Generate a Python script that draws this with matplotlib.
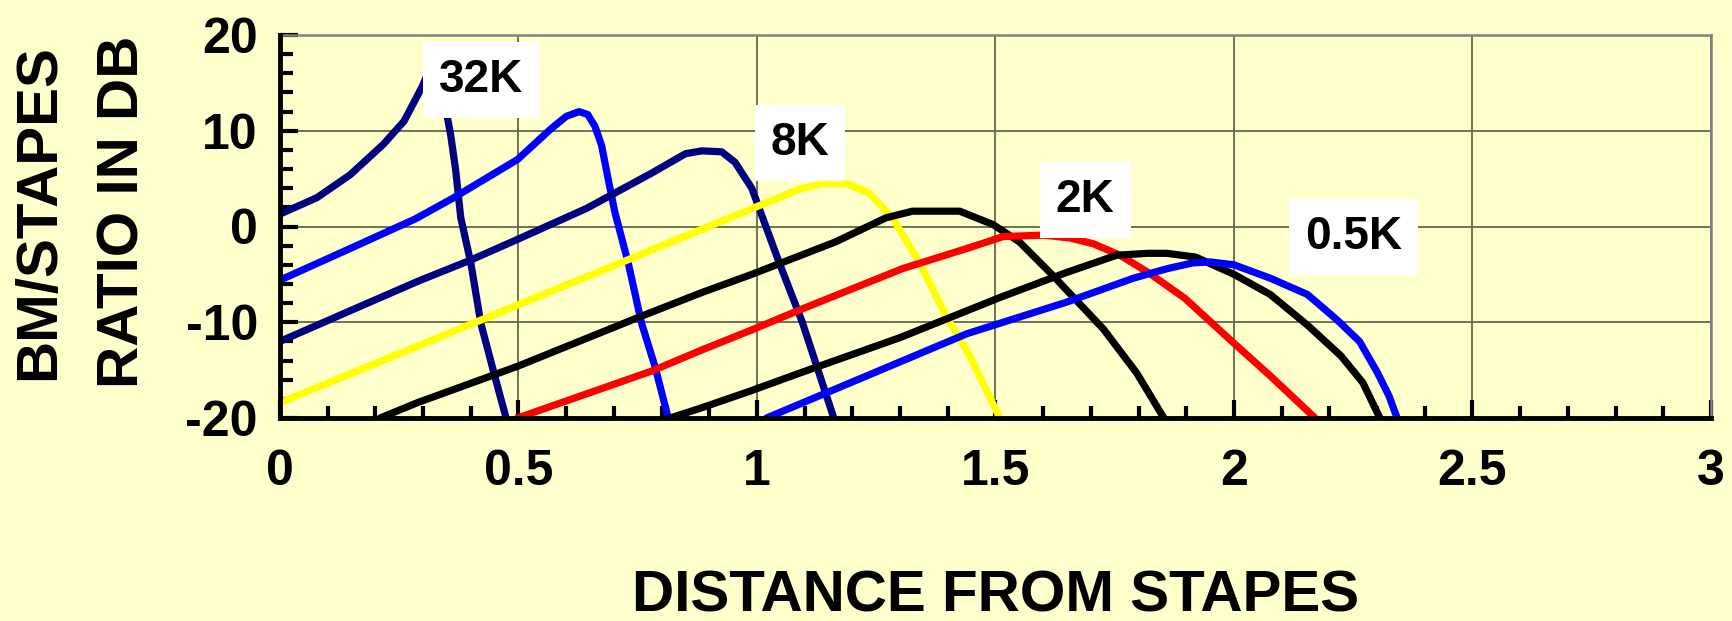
import numpy as np
import matplotlib
matplotlib.use("Agg")
from matplotlib import pyplot as plt
from matplotlib.ticker import MultipleLocator

plt.rcParams['font.family'] = ['Liberation Sans', 'DejaVu Sans']
plt.rcParams['font.weight'] = 'bold'
plt.rcParams['axes.unicode_minus'] = False

# distance from stapes / BM-to-stapes ratio (dB)
x_32k = [0, 0.077, 0.147, 0.217, 0.26, 0.298, 0.32, 0.335, 0.345, 0.351, 0.358, 0.368, 0.379, 0.40, 0.421, 0.449, 0.474]
y_32k = [1.3, 3.0, 5.4, 8.6, 11.0, 14.6, 17.2, 17.8, 14.5, 11.4, 9.5, 6.0, 0.9, -3.8, -10.1, -15.4, -20]

x_16k = [0, 0.147, 0.284, 0.364, 0.498, 0.568, 0.60, 0.627, 0.645, 0.66, 0.674, 0.691, 0.702, 0.73, 0.758, 0.786, 0.814]
y_16k = [-5.6, -2.3, 0.8, 3.0, 7.0, 10.2, 11.5, 12.0, 11.7, 10.5, 8.5, 4.2, 1.5, -3.8, -10.1, -14.6, -20]

x_11k = [0, 0.147, 0.29, 0.40, 0.50, 0.643, 0.78, 0.85, 0.884, 0.926, 0.954, 0.989, 1.046, 1.095, 1.13, 1.161]
y_11k = [-12.0, -8.8, -5.7, -3.5, -1.3, 1.9, 5.6, 7.6, 7.9, 7.8, 6.7, 4.0, -3.7, -10.0, -15.3, -20]

x_8k = [0, 0.147, 0.288, 0.498, 0.709, 0.884, 0.996, 1.095, 1.14, 1.186, 1.235, 1.284, 1.34, 1.396, 1.446, 1.509]
y_8k = [-18.4, -15.4, -12.5, -8.2, -3.9, -0.3, 2.0, 4.0, 4.5, 4.5, 3.5, 0.9, -3.7, -9.3, -13.5, -20]

x_4k = [0.21, 0.288, 0.498, 0.751, 0.884, 0.989, 1.165, 1.27, 1.326, 1.425, 1.495, 1.55, 1.62, 1.726, 1.796, 1.853]
y_4k = [-20, -18.4, -14.6, -9.5, -6.9, -5.0, -1.6, 0.9, 1.6, 1.6, 0.2, -1.6, -5.1, -10.7, -15.3, -20]

x_2k = [0.498, 0.779, 0.884, 0.989, 1.095, 1.305, 1.446, 1.516, 1.60, 1.656, 1.705, 1.761, 1.82, 1.897, 2.0, 2.076, 2.17]
y_2k = [-20, -15.1, -12.9, -10.8, -8.6, -4.4, -2.2, -1.05, -0.9, -1.2, -1.8, -3.0, -4.8, -7.5, -12.2, -15.6, -20]

x_1k = [0.818, 0.88, 0.985, 1.09, 1.30, 1.51, 1.649, 1.754, 1.82, 1.859, 1.92, 2.0, 2.076, 2.154, 2.224, 2.27, 2.30, 2.306]
y_1k = [-20, -19.0, -17.2, -15.3, -11.6, -7.4, -4.8, -3.0, -2.8, -2.8, -3.2, -5.0, -7.1, -10.3, -13.5, -16.3, -19.4, -20]

x_05k = [1.02, 1.23, 1.44, 1.649, 1.789, 1.86, 1.914, 1.95, 2.0, 2.076, 2.154, 2.216, 2.263, 2.30, 2.325, 2.342]
y_05k = [-20, -15.6, -11.2, -7.9, -5.4, -4.4, -3.8, -3.7, -4.0, -5.4, -7.1, -9.75, -12.0, -15.2, -17.7, -20]

curves = [
    (x_32k, y_32k, '#000080'),
    (x_16k, y_16k, '#0000ff'),
    (x_11k, y_11k, '#000080'),
    (x_8k, y_8k, '#ffff00'),
    (x_4k, y_4k, '#000000'),
    (x_2k, y_2k, '#ff0000'),
    (x_1k, y_1k, '#000000'),
    (x_05k, y_05k, '#0000ff'),
]

labels = ['32K', '8K', '2K', '0.5K']
label_x = [0.421, 1.09, 1.688, 2.25]
label_y = [15.3, 8.7, 2.8, -1.1]

bg = '#ffffcc'
fig = plt.figure(figsize=(17.33, 6.21), dpi=100, facecolor=bg)
ax = fig.add_axes([280 / 1733, 1 - 418 / 621, 1431 / 1733, 383 / 621])
ax.set_facecolor(bg)

for xs, ys, c in curves:
    ax.plot(xs, ys, color=c, lw=5.2, solid_capstyle='round', solid_joinstyle='round', zorder=3)

for t, lx, ly in zip(labels, label_x, label_y):
    ax.text(lx, ly, t, fontsize=33, fontweight='bold', ha='center', va='center', zorder=5,
            bbox=dict(boxstyle='square,pad=0.35', fc='white', ec='none'))

ax.set_xlim(0, 3)
ax.set_ylim(-20, 20)
ax.xaxis.set_minor_locator(MultipleLocator(0.1))
ax.yaxis.set_major_locator(MultipleLocator(10))
ax.yaxis.set_minor_locator(MultipleLocator(2))
ax.set_xticks([0, 0.5, 1, 1.5, 2, 2.5, 3])
ax.set_xticklabels(['0', '0.5', '1', '1.5', '2', '2.5', '3'])

ax.grid(True, which='major', color='#66664d', lw=1.3, zorder=1)
ax.tick_params(which='both', direction='in', color='black', width=3, top=False, right=False,
               labelsize=36)
ax.tick_params(which='major', length=13)
ax.tick_params(which='minor', length=9)
ax.tick_params(axis='x', pad=22)
ax.tick_params(axis='y', pad=16)

for s in ['left', 'bottom']:
    ax.spines[s].set_linewidth(3.5)
    ax.spines[s].set_color('black')
    ax.spines[s].set_zorder(6)
for s in ['top', 'right']:
    ax.spines[s].set_linewidth(1.8)
    ax.spines[s].set_color('#808080')

ax.set_xlabel('DISTANCE FROM STAPES', fontsize=42, fontweight='bold', va='center')
ax.xaxis.set_label_coords(0.5, -0.465)
ax.set_ylabel('BM/STAPES\nRATIO IN DB', fontsize=42, fontweight='bold', va='center',
              linespacing=1.72)
ax.yaxis.set_label_coords(-0.139, 0.538)

fig.savefig('out.png', dpi=100, facecolor=bg)
